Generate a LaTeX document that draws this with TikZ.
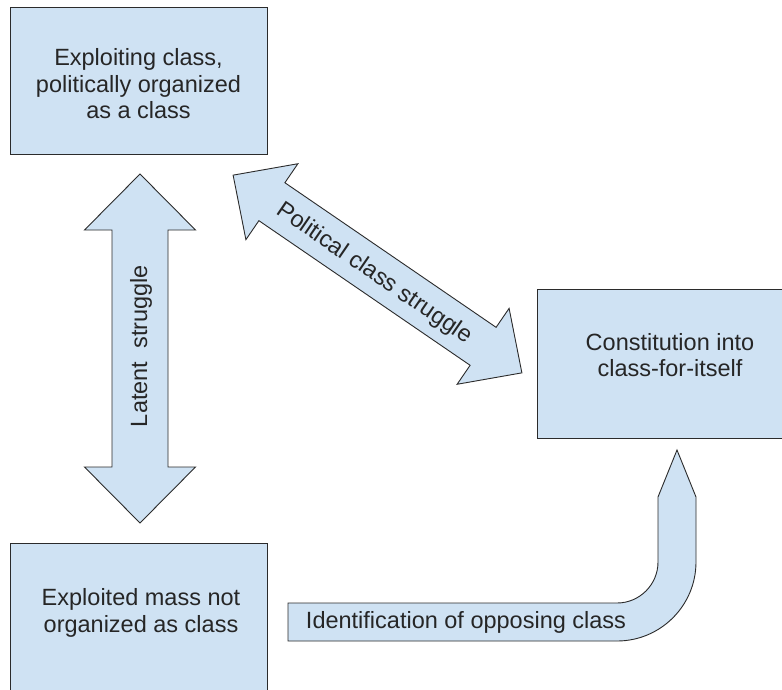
\documentclass[tikz,border=0pt]{standalone}
\usepackage{fontspec}
\setmainfont{Liberation Sans}
\definecolor{boxfill}{HTML}{CFE2F3}
\definecolor{boxline}{HTML}{2B2B2B}
\begin{document}
\begin{tikzpicture}[x=1pt,y=-1pt,
  box/.style={draw=boxline,fill=boxfill,line width=0.9pt,inner sep=0pt},
  blockarrow/.style={draw=boxline,fill=boxfill,line width=0.9pt,line join=miter},
  lbl/.style={font=\fontsize{23.5}{26.5}\selectfont,align=center,inner sep=0pt,text=black!85}]
\clip (0,0) rectangle (782,689);
\fill[white] (0,0) rectangle (782,689);
% boxes
\node[box,minimum width=257pt,minimum height=147pt] (exploiting) at (138.5,80.5) {};
\node[lbl] (exploitingT) at (138.5,84) {Exploiting class,\\politically organized\\as a class};
\node[box,minimum width=266pt,minimum height=149pt] (constit) at (670,363.5) {};
\node[lbl] (constitT) at (670,355) {Constitution into\\class-for-itself};
\node[box,minimum width=257pt,minimum height=170pt] (exploited) at (138.5,628) {};
\node[lbl] (exploitedT) at (141,613) {Exploited mass not\\organized as class};
% vertical double arrow
\draw[blockarrow] (140,174) -- (195.5,230) -- (168,230) -- (168,467) -- (195.5,467)
  -- (140,523) -- (84.5,467) -- (112,467) -- (112,230) -- (84.5,230) -- cycle;
\node[lbl,rotate=90] (latent) at (141,346) {Latent\ \ struggle};
% diagonal double arrow
\begin{scope}[shift={(377.5,274)},rotate=-34.4]
\draw[blockarrow] (-175,0) -- (-128,-46) -- (-128,-23) -- (128,-23) -- (128,-46) -- (175,0)
  -- (128,46) -- (128,23) -- (-128,23) -- (-128,46) -- cycle;
\end{scope}
\node[lbl,rotate=-34.4] (political) at (374,274) {Political class struggle};
% bent arrow
\draw[blockarrow] (288,603) -- (617,603) .. controls (639.6,603) and (658,584.6) .. (658,562)
  -- (658,497) -- (677,450) -- (696,497) -- (696,562)
  .. controls (696,605.6) and (660.6,641) .. (617,641) -- (288,641) -- cycle;
\node[lbl] (ident) at (466,622) {Identification of opposing class};
\end{tikzpicture}
\end{document}
